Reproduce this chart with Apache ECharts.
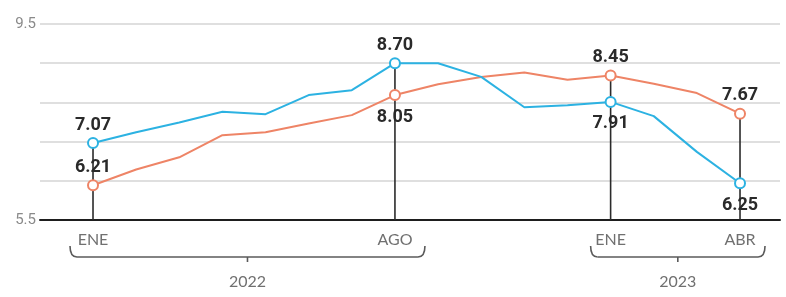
<!DOCTYPE html>
<html>
<head>
<meta charset="utf-8">
<script src="https://cdn.jsdelivr.net/npm/echarts@6/dist/echarts.min.js"></script>
<style>
html,body{margin:0;padding:0;background:#fff;}
#c{width:786px;height:297px;}
</style>
</head>
<body>
<div id="c"></div>
<script>
// ---- data ----
const months = ['ENE','FEB','MAR','ABR','MAY','JUN','JUL','AGO','SEP','OCT','NOV','DIC','ENE','FEB','MAR','ABR'];
const years = ['2022','2023'];
const yearStart = [0, 12];
const yearEnd = [7, 15];
const blueValues = [7.07, 7.29, 7.49, 7.71, 7.66, 8.05, 8.15, 8.70, 8.70, 8.42, 7.80, 7.84, 7.91, 7.62, 6.89, 6.25];
const orangeValues = [6.21, 6.53, 6.78, 7.23, 7.29, 7.47, 7.64, 8.05, 8.27, 8.42, 8.51, 8.36, 8.45, 8.28, 8.09, 7.67];
const highlightIdx = [0, 7, 12, 15];
const yLabelValues = [5.5, 9.5];

// ---- styling config ----
const BLUE = '#2cb2e2';
const ORANGE = '#ee8466';
const blueLabelPos = {0:'top', 7:'top', 12:'bottom', 15:'bottom'};
const orangeLabelPos = {0:'top', 7:'bottom', 12:'top', 15:'top'};

function buildData(values, color, posMap) {
  return values.map((v, i) => {
    const item = { value: [i, v] };
    if (highlightIdx.includes(i)) {
      item.symbol = 'circle';
      item.symbolSize = 10;
      const pos = posMap[i];
      item.label = {
        show: true,
        position: pos,
        distance: pos === 'top' ? 3 : 7,
        formatter: v.toFixed(2),
        color: '#2a2a2a',
        fontSize: 18,
        fontWeight: 'bold',
        fontFamily: 'Roboto'
      };
    } else {
      item.symbol = 'none';
    }
    return item;
  });
}

const chart = echarts.init(document.getElementById('c'), null, {renderer: 'canvas'});
const dropData = highlightIdx.map(i => [i, Math.max(blueValues[i], orangeValues[i])]);

chart.setOption({
  backgroundColor: '#fff',
  animation: false,
  grid: { left: 40, right: 6, top: 24, bottom: 77, containLabel: false },
  xAxis: {
    type: 'value',
    min: -1.229,
    max: 15.927,
    axisLine: { show: true, lineStyle: { color: '#1e1e1e', width: 2 } },
    axisTick: { show: false },
    splitLine: { show: false },
    axisLabel: {
      customValues: highlightIdx,
      formatter: v => months[Math.round(v)],
      color: '#707070',
      fontSize: 16,
      fontFamily: 'Lato',
      margin: 12
    }
  },
  yAxis: {
    type: 'value',
    min: 5.5,
    max: 9.5,
    interval: 0.8,
    axisLine: { show: false },
    axisTick: { show: false },
    splitLine: { show: true, lineStyle: { color: '#d4d4d4', width: 1.5 } },
    axisLabel: {
      customValues: yLabelValues,
      formatter: v => v.toFixed(1),
      color: '#8a8a8a',
      fontSize: 15,
      fontFamily: 'Roboto',
      margin: 4
    }
  },
  series: [
    {
      type: 'custom',
      z: 1,
      silent: true,
      data: dropData,
      renderItem: function (params, api) {
        const top = api.coord([api.value(0), api.value(1)]);
        const bot = api.coord([api.value(0), 5.5]);
        return {
          type: 'line',
          shape: { x1: top[0], y1: top[1], x2: bot[0], y2: bot[1] },
          style: { stroke: '#2b2b2b', lineWidth: 1.6 }
        };
      }
    },
    {
      type: 'line',
      z: 3,
      data: buildData(orangeValues, ORANGE, orangeLabelPos),
      lineStyle: { color: ORANGE, width: 2 },
      itemStyle: { color: '#fff', borderColor: ORANGE, borderWidth: 2 },
      showSymbol: true
    },
    {
      type: 'line',
      z: 4,
      data: buildData(blueValues, BLUE, blueLabelPos),
      lineStyle: { color: BLUE, width: 2 },
      itemStyle: { color: '#fff', borderColor: BLUE, borderWidth: 2 },
      showSymbol: true
    }
  ]
});

// ---- year brackets ----
const bracketY = 257;
const padL = [23, 20];
const padR = [30, 25];
const graphics = [];
const bStyle = { stroke: '#5a5a5a', lineWidth: 1.6, fill: null };
years.forEach((yr, k) => {
  const x1 = chart.convertToPixel({xAxisIndex: 0}, yearStart[k]) - padL[k];
  const x2 = chart.convertToPixel({xAxisIndex: 0}, yearEnd[k]) + padR[k];
  const cx = (x1 + x2) / 2;
  const r = 7;
  graphics.push({
    type: 'bezierCurve',
    shape: { x1: x1, y1: bracketY - 11, cpx1: x1, cpy1: bracketY, x2: x1 + r, y2: bracketY },
    style: bStyle
  });
  graphics.push({
    type: 'line',
    shape: { x1: x1 + r, y1: bracketY, x2: x2 - r, y2: bracketY },
    style: bStyle
  });
  graphics.push({
    type: 'bezierCurve',
    shape: { x1: x2, y1: bracketY - 11, cpx1: x2, cpy1: bracketY, x2: x2 - r, y2: bracketY },
    style: bStyle
  });
  graphics.push({
    type: 'line',
    shape: { x1: cx, y1: bracketY, x2: cx, y2: bracketY + 5 },
    style: bStyle
  });
  graphics.push({
    type: 'text',
    x: cx,
    y: 282,
    style: {
      text: yr,
      fill: '#707070',
      font: '16px Lato',
      align: 'center',
      verticalAlign: 'middle'
    }
  });
});
chart.setOption({ graphic: graphics });
</script>
</body>
</html>
